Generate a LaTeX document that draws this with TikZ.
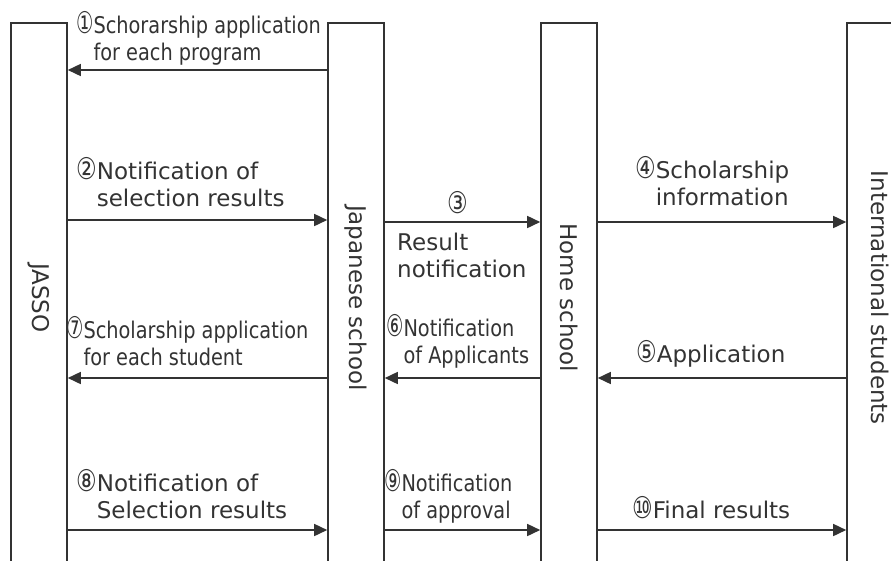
\documentclass[tikz,border=0pt]{standalone}
\usepackage{graphicx}
\usepackage{fontspec}
\setmainfont{DejaVu Sans}
\newfontfamily\narrowfont{DejaVu Sans}[FakeStretch=0.84]
\newcommand{\circnum}[1]{\scalebox{1}[1.3]{#1}}
\usetikzlibrary{arrows.meta}
\usetikzlibrary{positioning}

\begin{document}
\begin{tikzpicture}[x=1pt, y=-1pt,
	col/.style={draw=black!80, line width=1.6pt, minimum width=56pt, minimum height=550pt,
		anchor=north, inner sep=0pt, text=black!80, font=\fontsize{23}{27}\selectfont},
	flow/.style={draw=black!80, line width=1.6pt, -{Triangle[length=13pt,width=12pt]}},
	lbl/.style={font=\fontsize{23}{27}\selectfont, text=black!80, align=left, inner sep=0pt, anchor=base west},
	nlbl/.style={lbl, font=\fontsize{23}{27}\narrowfont}]
			\useasboundingbox (0,0) rectangle (891,560);
			\clip (0,0) rectangle (891,560);
			
			\node[col] (jasso) at (39,22) {\rotatebox{-90}{JASSO}};
			\node[col] (jschool) at (356,22) {\rotatebox{-90}{Japanese school}};
			\node[col] (hschool) at (569,22) {\rotatebox{-90}{Home school}};
			\node[col, minimum width=66pt] (istudents) at (880,22) {\rotatebox{-90}{International students}};
			
			\coordinate (row1) at (0,70);
			\coordinate (row2) at (0,220);
			\coordinate (row3) at (0,222);
			\coordinate (row4) at (0,378);
			\coordinate (row5) at (0,530);
			
			\draw[flow] (jschool.west |- row1) -- (jasso.east |- row1);
			\draw[flow] (jasso.east |- row2) -- (jschool.west |- row2);
			\draw[flow] (jschool.east |- row3) -- (hschool.west |- row3);
			\draw[flow] (hschool.east |- row3) -- (istudents.west |- row3);
			\draw[flow] (istudents.west |- row4) -- (hschool.east |- row4);
			\draw[flow] (hschool.west |- row4) -- (jschool.east |- row4);
			\draw[flow] (jschool.west |- row4) -- (jasso.east |- row4);
			\draw[flow] (jasso.east |- row5) -- (jschool.west |- row5);
			\draw[flow] (jschool.east |- row5) -- (hschool.west |- row5);
			\draw[flow] (hschool.east |- row5) -- (istudents.west |- row5);
			
			\node[nlbl] (app1) at (76,60) {\circnum{①}Schorarship application\\\phantom{\circnum{①}}for each program};
			\node[lbl] (res2) at (76,206) {\circnum{②}Notification of\\\phantom{\circnum{②}}selection results};
			\node[lbl, anchor=base] (num3) at (458,213) {\circnum{③}};
			\node[lbl] (res3) at (397,277) {Result\\notification};
			\node[lbl] (info4) at (635,205) {\circnum{④}Scholarship\\\phantom{\circnum{④}}information};
			\node[lbl] (app5) at (636,362) {\circnum{⑤}Application};
			\node[nlbl] (note6) at (386,363) {\circnum{⑥}Notification\\\phantom{\circnum{⑥}}of Applicants};
			\node[nlbl] (app7) at (66,365) {\circnum{⑦}Scholarship application\\\phantom{\circnum{⑦}}for each student};
			\node[lbl] (res8) at (76,518) {\circnum{⑧}Notification of\\\phantom{\circnum{⑧}}Selection results};
			\node[nlbl] (note9) at (384,518) {\circnum{⑨}Notification\\\phantom{\circnum{⑨}}of approval};
			\node[lbl] (res10) at (632,518) {\circnum{⑩}Final results};
		\end{tikzpicture}
\end{document}
